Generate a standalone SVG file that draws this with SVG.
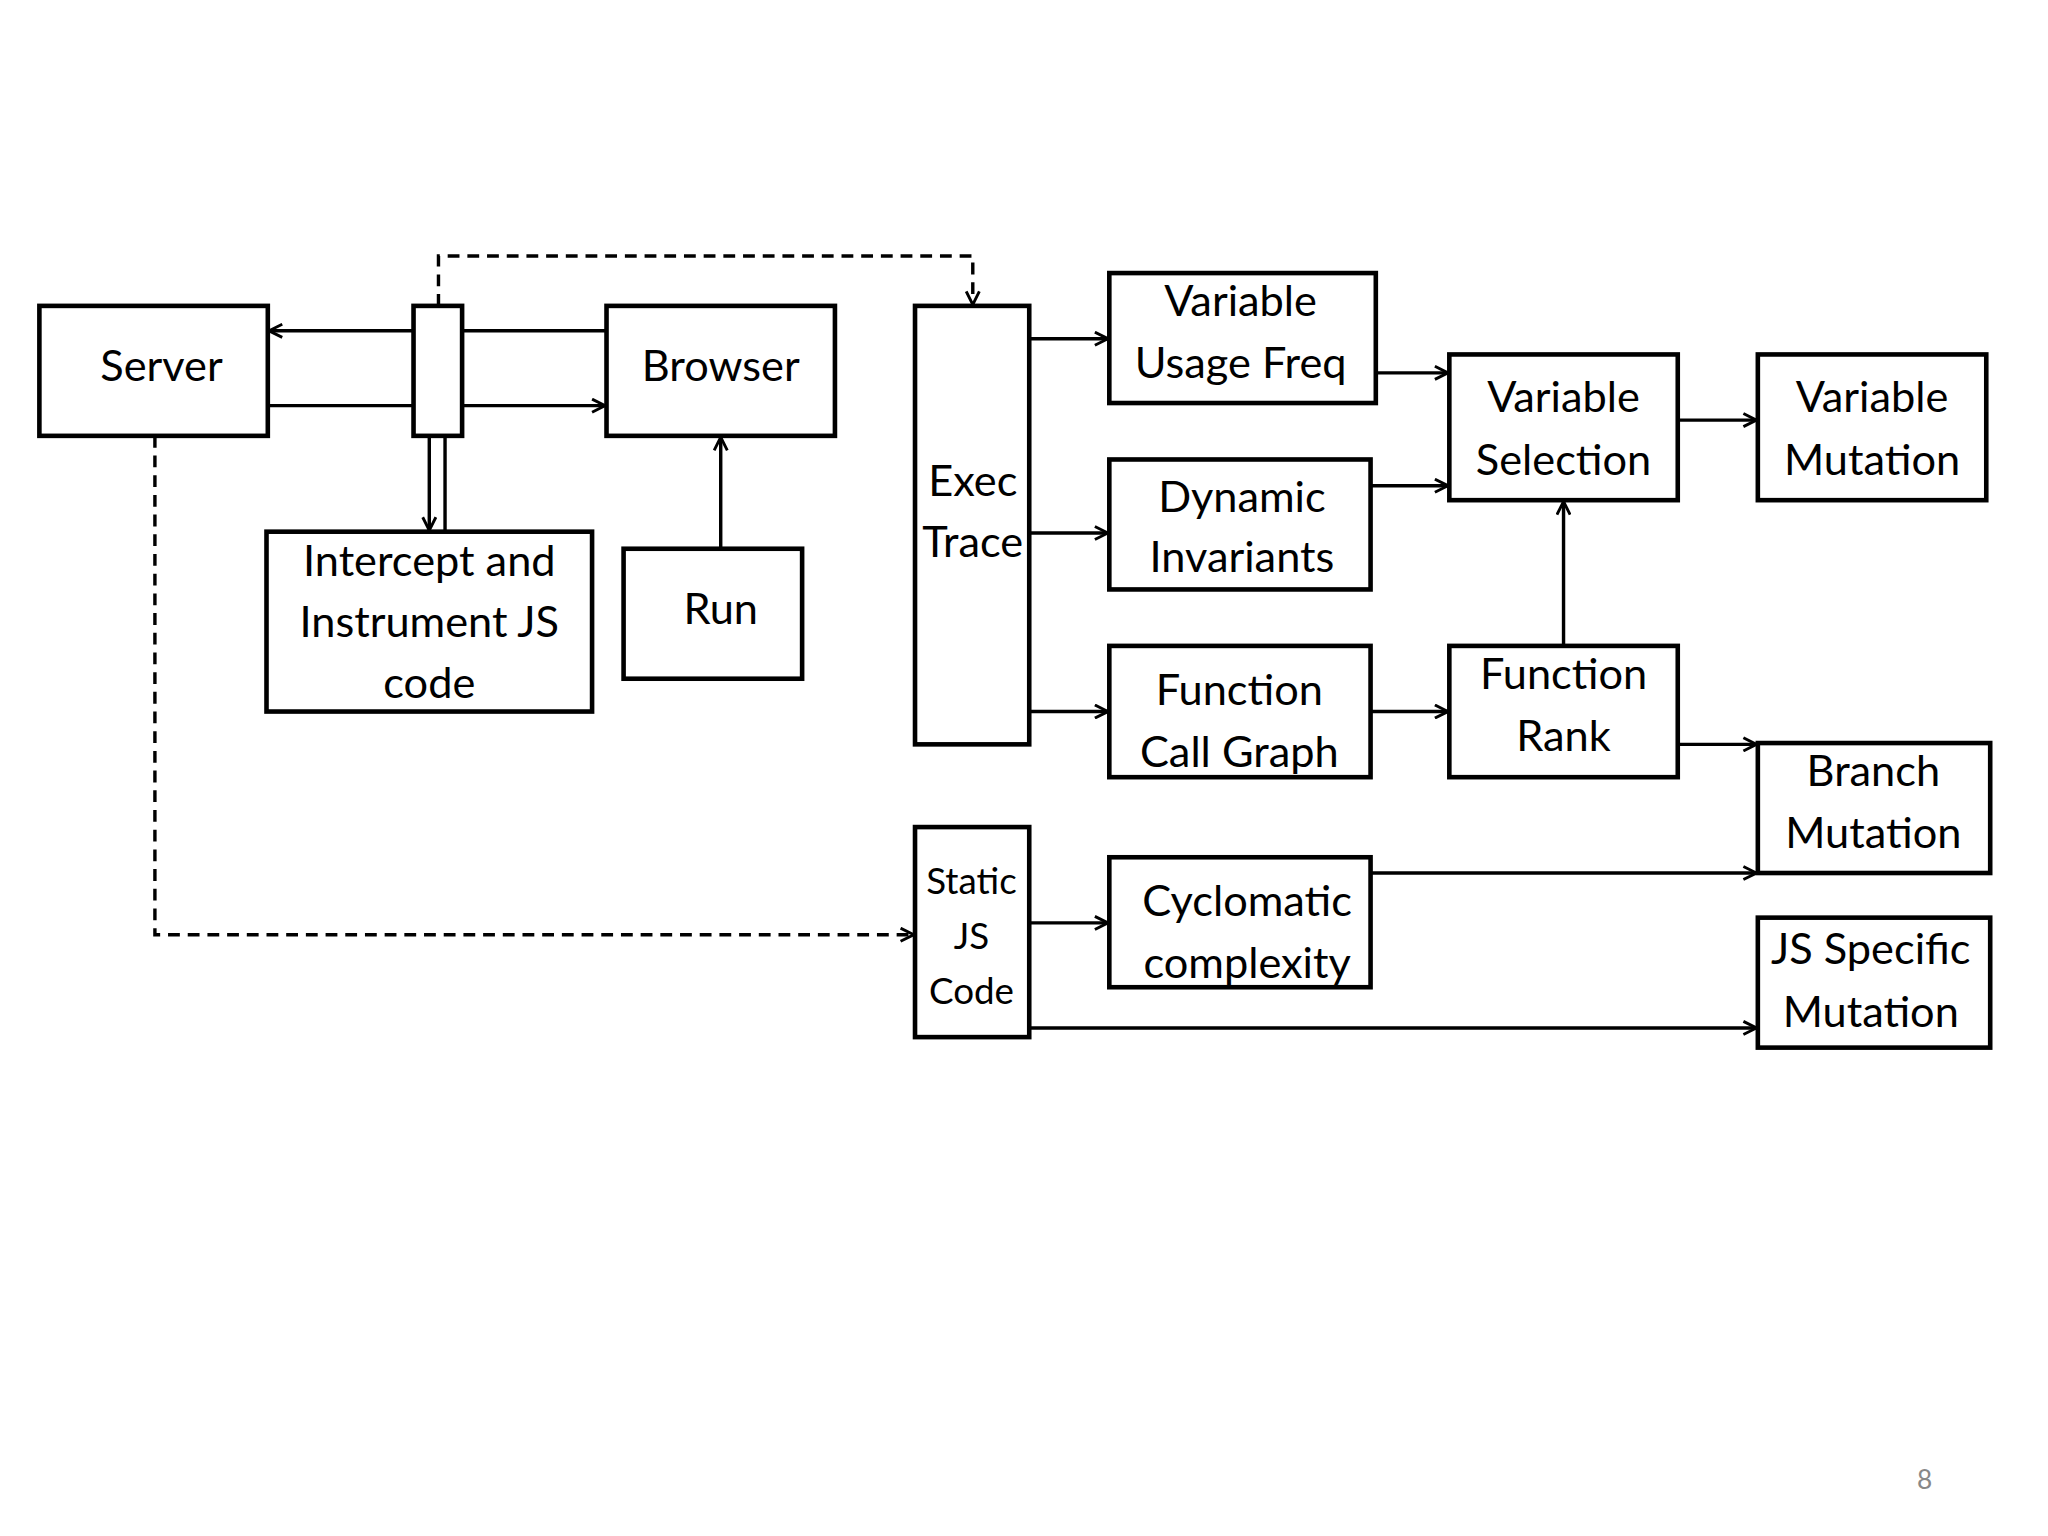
<svg xmlns="http://www.w3.org/2000/svg" width="2048" height="1536" viewBox="0 0 2048 1536">
<defs>
<marker id="ah" viewBox="0 0 12 12" refX="11" refY="6" markerWidth="12" markerHeight="12" markerUnits="userSpaceOnUse" orient="auto"><path d="M1,1 L11,6 L1,11" fill="none" stroke="#000" stroke-width="2.2"/></marker>
<style>
rect{fill:#fff;stroke:#000;stroke-width:3.5}
text{font-family:Lato,"Open Sans",sans-serif;font-size:33px;text-anchor:middle;fill:#000}
.s{font-size:28px}
#connectors line,#connectors path{stroke:#000;stroke-width:2.6;fill:none}
#connectors .d{stroke-dasharray:9,6}
</style>
</defs>
<rect x="0" y="0" width="2048" height="1536" style="fill:#fff;stroke:none"/>
<g transform="scale(1.3128)">
<g id="connectors">
<line x1="315" y1="252" x2="205" y2="252" marker-end="url(#ah)"/>
<line x1="462" y1="252" x2="352" y2="252"/>
<line x1="204" y1="309" x2="315" y2="309"/>
<line x1="352" y1="309" x2="461" y2="309" marker-end="url(#ah)"/>
<line x1="327" y1="332" x2="327" y2="404" marker-end="url(#ah)"/>
<line x1="339" y1="332" x2="339" y2="405"/>
<line x1="549" y1="418" x2="549" y2="333" marker-end="url(#ah)"/>
<path class="d" d="M334,233 V195 H741 V232" marker-end="url(#ah)"/>
<path class="d" d="M118,332 V712 H696" marker-end="url(#ah)"/>
<line x1="784" y1="258" x2="844" y2="258" marker-end="url(#ah)"/>
<line x1="784" y1="406" x2="844" y2="406" marker-end="url(#ah)"/>
<line x1="784" y1="542" x2="844" y2="542" marker-end="url(#ah)"/>
<line x1="1046" y1="284" x2="1103" y2="284" marker-end="url(#ah)"/>
<line x1="1044" y1="370" x2="1103" y2="370" marker-end="url(#ah)"/>
<line x1="1278" y1="320" x2="1338" y2="320" marker-end="url(#ah)"/>
<line x1="1044" y1="542" x2="1103" y2="542" marker-end="url(#ah)"/>
<line x1="1191" y1="492" x2="1191" y2="382" marker-end="url(#ah)"/>
<line x1="1278" y1="567" x2="1338" y2="567" marker-end="url(#ah)"/>
<line x1="1044" y1="665" x2="1338" y2="665" marker-end="url(#ah)"/>
<line x1="784" y1="703" x2="844" y2="703" marker-end="url(#ah)"/>
<line x1="784" y1="783" x2="1338" y2="783" marker-end="url(#ah)"/>
</g>
<g id="server"><rect x="30" y="233" width="174" height="99"/><text x="123" y="290">Server</text></g>
<g id="proxy"><rect x="315" y="233" width="37" height="99"/></g>
<g id="browser"><rect x="462" y="233" width="174" height="99"/><text x="549" y="290">Browser</text></g>
<g id="intercept"><rect x="203" y="405" width="248" height="137"/><text x="327" y="439">Intercept and</text><text x="327" y="485">Instrument JS</text><text x="327" y="532">code</text></g>
<g id="run"><rect x="475" y="418" width="136" height="99"/><text x="549" y="475">Run</text></g>
<g id="exec"><rect x="697" y="233" width="87" height="334"/><text x="741" y="378">Exec</text><text x="741" y="424">Trace</text></g>
<g id="static"><rect x="697" y="630" width="87" height="160"/><text class="s" x="740" y="681">Static</text><text class="s" x="740" y="723">JS</text><text class="s" x="740" y="765">Code</text></g>
<g id="vuf"><rect x="845" y="208" width="203" height="99"/><text x="945" y="241">Variable</text><text x="945" y="288">Usage Freq</text></g>
<g id="di"><rect x="845" y="350" width="199" height="99"/><text x="946" y="390">Dynamic</text><text x="946" y="436">Invariants</text></g>
<g id="fcg"><rect x="845" y="492" width="199" height="100"/><text x="944" y="537">Function</text><text x="944" y="584">Call Graph</text></g>
<g id="cc"><rect x="845" y="653" width="199" height="99"/><text x="950" y="698">Cyclomatic</text><text x="950" y="745">complexity</text></g>
<g id="vs"><rect x="1104" y="270" width="174" height="111"/><text x="1191" y="314">Variable</text><text x="1191" y="362">Selection</text></g>
<g id="fr"><rect x="1104" y="492" width="174" height="100"/><text x="1191" y="525">Function</text><text x="1191" y="572">Rank</text></g>
<g id="vm"><rect x="1339" y="270" width="174" height="111"/><text x="1426" y="314">Variable</text><text x="1426" y="362">Mutation</text></g>
<g id="bm"><rect x="1339" y="566" width="177" height="99"/><text x="1427" y="599">Branch</text><text x="1427" y="646">Mutation</text></g>
<g id="jsm"><rect x="1339" y="699" width="177" height="99"/><text x="1425" y="734">JS Specific</text><text x="1425" y="782">Mutation</text></g>
<text x="1466" y="1134" style="font-size:20px;fill:#888">8</text>
</g>
</svg>
